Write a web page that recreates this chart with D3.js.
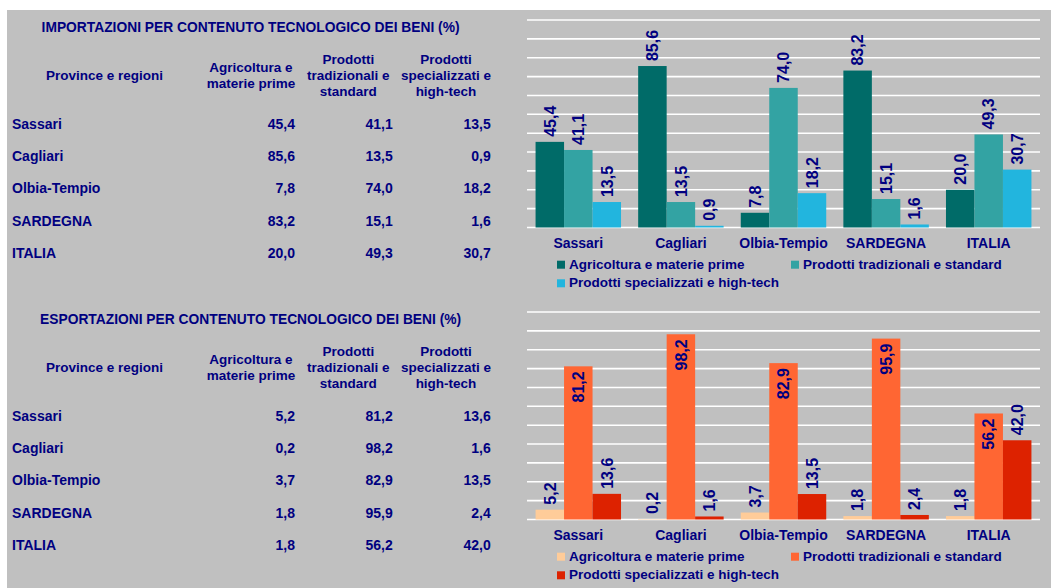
<!DOCTYPE html>
<html>
<head>
<meta charset="utf-8">
<script src="https://cdn.jsdelivr.net/npm/d3@7"></script>
<style>
  body { margin: 0; background: #ffffff; }
  svg text { font-family: Arial, "Liberation Sans", sans-serif; font-weight: bold; fill: #000080; }
</style>
</head>
<body>
<div id="chart"></div>
<script>
// categorie e serie
const categories = ["Sassari", "Cagliari", "Olbia-Tempio", "SARDEGNA", "ITALIA"];
const seriesNames = [
  "Agricoltura e materie prime",
  "Prodotti tradizionali e standard",
  "Prodotti specializzati e high-tech",
];
const colHeaders = [
  ["Agricoltura e", "materie prime"],
  ["Prodotti", "tradizionali e", "standard"],
  ["Prodotti", "specializzati e", "high-tech"],
];

const importAgri = [45.4, 85.6, 7.8, 83.2, 20.0];
const importTrad = [41.1, 13.5, 74.0, 15.1, 49.3];
const importHigh = [13.5, 0.9, 18.2, 1.6, 30.7];

const exportAgri = [5.2, 0.2, 3.7, 1.8, 1.8];
const exportTrad = [81.2, 98.2, 82.9, 95.9, 56.2];
const exportHigh = [13.6, 1.6, 13.5, 2.4, 42.0];

const yMax = 110;
const gridCount = 10;

const itFormat = d3.formatLocale({
  decimal: ",",
  thousands: ".",
  grouping: [3],
  currency: ["", "€"],
}).format(".1f");

const svg = d3.select("#chart").append("svg").attr("width", 1051).attr("height", 588);

// sfondo grigio
svg.append("rect").attr("x", 7).attr("y", 10).attr("width", 1044).attr("height", 578).attr("fill", "#c0c0c0");

function drawPanel(top, title, series, colors, insideSeries) {
  const g = svg.append("g").attr("transform", `translate(0,${top})`);

  // ---- tabella ----
  g.append("text").attr("x", 250.6).attr("y", 31.5).attr("text-anchor", "middle")
    .style("font-size", "13.8px").text(title);

  g.append("text").attr("x", 104.5).attr("y", 80).attr("text-anchor", "middle")
    .style("font-size", "13.5px").text("Province e regioni");

  const colX = [295, 392.7, 490.7];
  const colCenter = [251, 348.3, 446];
  colHeaders.forEach((lines, c) => {
    lines.forEach((line, i) => {
      g.append("text")
        .attr("x", colCenter[c])
        .attr("y", 80 + (i - (lines.length - 1) / 2) * 16)
        .attr("text-anchor", "middle")
        .style("font-size", "13.5px")
        .text(line);
    });
  });

  categories.forEach((cat, r) => {
    const y = 129 + r * 32.2;
    g.append("text").attr("x", 12).attr("y", y).style("font-size", "14px").text(cat);
    series.forEach((vals, c) => {
      g.append("text").attr("x", colX[c]).attr("y", y).attr("text-anchor", "end")
        .style("font-size", "14px").text(itFormat(vals[r]));
    });
  });

  // ---- grafico ----
  const x0 = d3.scaleBand().domain(categories).range([527, 1040]).paddingInner(0.167).paddingOuter(0.0835);
  const x1 = d3.scaleBand().domain(d3.range(series.length)).range([0, x0.bandwidth()]);
  const y = d3.scaleLinear().domain([0, yMax]).range([227.5, 20]);

  g.append("g")
    .selectAll("line")
    .data(y.ticks(gridCount))
    .enter()
    .append("line")
    .attr("x1", 527)
    .attr("x2", 1040)
    .attr("y1", (d) => y(d))
    .attr("y2", (d) => y(d))
    .attr("stroke", "#ffffff")
    .attr("stroke-width", 1.6);

  const groups = g.append("g")
    .selectAll("g")
    .data(categories)
    .enter()
    .append("g")
    .attr("transform", (d) => `translate(${x0(d)},0)`);

  groups.selectAll("rect")
    .data((d, i) => series.map((vals, s) => ({ s: s, v: vals[i] })))
    .enter()
    .append("rect")
    .attr("x", (d) => x1(d.s))
    .attr("width", x1.bandwidth())
    .attr("y", (d) => y(d.v))
    .attr("height", (d) => y(0) - y(d.v))
    .attr("fill", (d) => colors[d.s]);

  // etichette ruotate
  groups.selectAll("text")
    .data((d, i) => series.map((vals, s) => ({ s: s, v: vals[i] })))
    .enter()
    .append("text")
    .attr("transform", (d) => {
      const cx = x1(d.s) + x1.bandwidth() / 2;
      const ly = d.s === insideSeries ? y(d.v) + 5 : y(d.v) - 5;
      return `translate(${cx},${ly}) rotate(-90)`;
    })
    .attr("dy", "0.36em")
    .attr("text-anchor", (d) => (d.s === insideSeries ? "end" : "start"))
    .style("font-size", "16px")
    .text((d) => itFormat(d.v));

  // etichette categorie
  g.append("g")
    .selectAll("text")
    .data(categories)
    .enter()
    .append("text")
    .attr("x", (d) => x0(d) + x0.bandwidth() / 2)
    .attr("y", 248.3)
    .attr("text-anchor", "middle")
    .style("font-size", "14px")
    .text((d) => d);

  // legenda
  const legendPos = [
    { x: 557, y: 268.7 },
    { x: 791, y: 268.7 },
    { x: 557, y: 287.3 },
  ];
  seriesNames.forEach((name, s) => {
    const p = legendPos[s];
    g.append("rect").attr("x", p.x).attr("y", p.y - 8).attr("width", 8).attr("height", 8).attr("fill", colors[s]);
    g.append("text").attr("x", p.x + 12).attr("y", p.y).style("font-size", "13.5px").text(name);
  });
}

drawPanel(
  0,
  "IMPORTAZIONI PER CONTENUTO TECNOLOGICO DEI BENI (%)",
  [importAgri, importTrad, importHigh],
  ["#006b68", "#33a3a3", "#22b5de"],
  -1
);

drawPanel(
  292,
  "ESPORTAZIONI PER CONTENUTO TECNOLOGICO DEI BENI (%)",
  [exportAgri, exportTrad, exportHigh],
  ["#ffcc99", "#ff6633", "#dd2200"],
  1
);
</script>
</body>
</html>
